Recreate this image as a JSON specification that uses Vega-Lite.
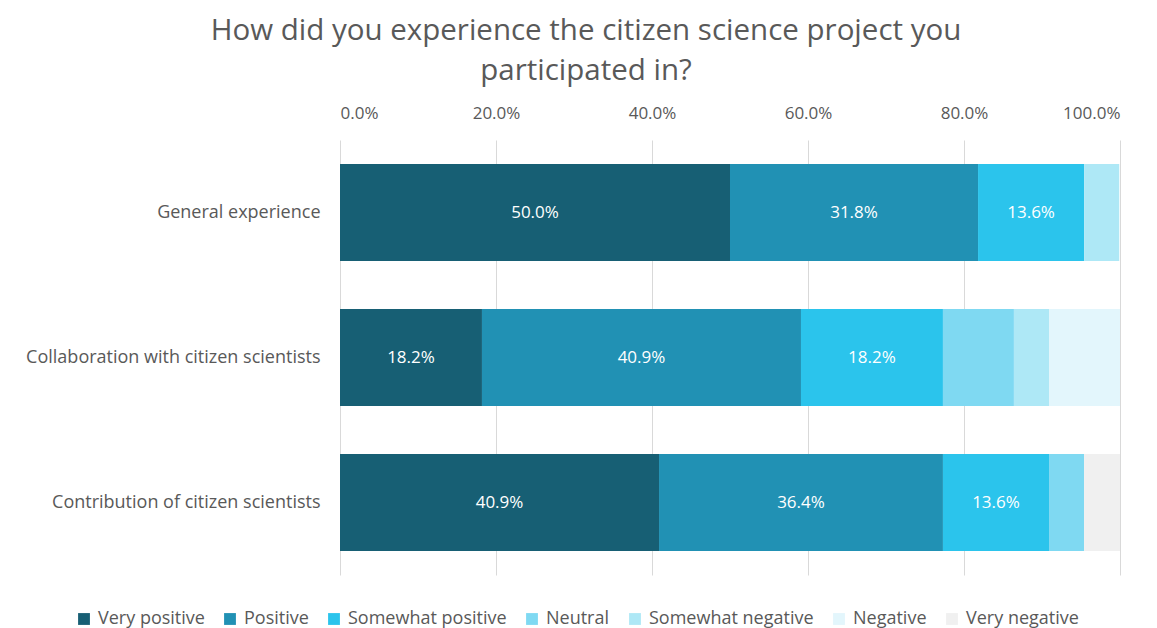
{
  "$schema": "https://vega.github.io/schema/vega-lite/v6.json",
  "width": 780,
  "height": 435,
  "autosize": "none",
  "padding": {"left": 340, "top": 140, "right": 37, "bottom": 53},
  "background": "white",
  "config": {
    "font": "Open Sans",
    "view": {"stroke": null}
  },
  "title": {
    "text": ["How did you experience the citizen science project you", "participated in?"],
    "fontSize": 29.5,
    "fontWeight": "normal",
    "color": "#595959",
    "lineHeight": 40,
    "offset": 18,
    "anchor": "middle",
    "dx": -144
  },
  "data": {
    "values": [
      {"aspect": "General experience", "response": "Very positive", "rank": 1, "share": 0.5},
      {"aspect": "General experience", "response": "Positive", "rank": 2, "share": 0.318},
      {"aspect": "General experience", "response": "Somewhat positive", "rank": 3, "share": 0.136},
      {"aspect": "General experience", "response": "Neutral", "rank": 4, "share": 0.0},
      {"aspect": "General experience", "response": "Somewhat negative", "rank": 5, "share": 0.045},
      {"aspect": "General experience", "response": "Negative", "rank": 6, "share": 0.0},
      {"aspect": "General experience", "response": "Very negative", "rank": 7, "share": 0.0},
      {"aspect": "Collaboration with citizen scientists", "response": "Very positive", "rank": 1, "share": 0.182},
      {"aspect": "Collaboration with citizen scientists", "response": "Positive", "rank": 2, "share": 0.409},
      {"aspect": "Collaboration with citizen scientists", "response": "Somewhat positive", "rank": 3, "share": 0.182},
      {"aspect": "Collaboration with citizen scientists", "response": "Neutral", "rank": 4, "share": 0.091},
      {"aspect": "Collaboration with citizen scientists", "response": "Somewhat negative", "rank": 5, "share": 0.045},
      {"aspect": "Collaboration with citizen scientists", "response": "Negative", "rank": 6, "share": 0.091},
      {"aspect": "Collaboration with citizen scientists", "response": "Very negative", "rank": 7, "share": 0.0},
      {"aspect": "Contribution of citizen scientists", "response": "Very positive", "rank": 1, "share": 0.409},
      {"aspect": "Contribution of citizen scientists", "response": "Positive", "rank": 2, "share": 0.364},
      {"aspect": "Contribution of citizen scientists", "response": "Somewhat positive", "rank": 3, "share": 0.136},
      {"aspect": "Contribution of citizen scientists", "response": "Neutral", "rank": 4, "share": 0.045},
      {"aspect": "Contribution of citizen scientists", "response": "Somewhat negative", "rank": 5, "share": 0.0},
      {"aspect": "Contribution of citizen scientists", "response": "Negative", "rank": 6, "share": 0.0},
      {"aspect": "Contribution of citizen scientists", "response": "Very negative", "rank": 7, "share": 0.046}
    ]
  },
  "encoding": {
    "y": {
      "field": "aspect",
      "type": "nominal",
      "sort": ["General experience", "Collaboration with citizen scientists", "Contribution of citizen scientists"],
      "scale": {"paddingInner": 0.33, "paddingOuter": 0.165},
      "axis": {
        "title": null,
        "ticks": false,
        "domain": false,
        "labelFontSize": 18,
        "labelColor": "#595959",
        "labelPadding": 20,
        "labelLimit": 400
      }
    },
    "x": {
      "field": "share",
      "type": "quantitative",
      "stack": "zero",
      "scale": {"domain": [0, 1], "nice": false},
      "axis": {
        "orient": "top",
        "title": null,
        "format": ".1%",
        "values": [0, 0.2, 0.4, 0.6, 0.8, 1.0],
        "ticks": false,
        "domain": false,
        "labelFontSize": 17,
        "labelColor": "#595959",
        "labelPadding": 18,
        "gridColor": "#d9d9d9",
        "gridWidth": 1
      }
    },
    "order": {"field": "rank", "type": "quantitative"}
  },
  "layer": [
    {
      "mark": {"type": "bar"},
      "encoding": {
        "color": {
          "field": "response",
          "type": "nominal",
          "scale": {
            "domain": ["Very positive", "Positive", "Somewhat positive", "Neutral", "Somewhat negative", "Negative", "Very negative"],
            "range": ["#175f74", "#2191b4", "#2bc4ec", "#7fd9f2", "#aee8f6", "#e3f6fc", "#f0f0f0"]
          },
          "legend": {
            "title": null,
            "orient": "none",
            "direction": "horizontal",
            "legendX": -265,
            "legendY": 470,
            "symbolType": "square",
            "symbolSize": 140,
            "symbolStrokeWidth": 0,
            "labelFontSize": 18,
            "labelColor": "#595959",
            "labelOffset": 5,
            "labelLimit": 300,
            "columnPadding": 16
          }
        }
      }
    },
    {
      "transform": [{"filter": "datum.share >= 0.1"}],
      "mark": {"type": "text", "color": "white", "fontSize": 17},
      "encoding": {
        "x": {"field": "share", "type": "quantitative", "stack": "zero", "bandPosition": 0.5},
        "text": {"field": "share", "type": "quantitative", "format": ".1%"}
      }
    }
  ]
}
